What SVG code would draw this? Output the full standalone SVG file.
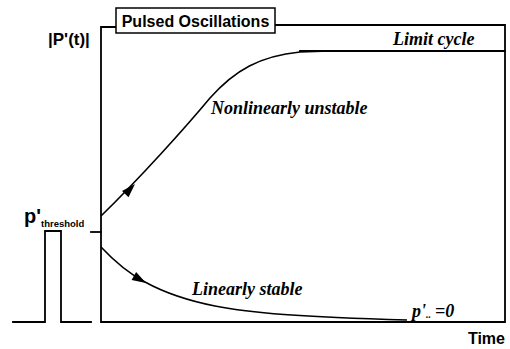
<svg xmlns="http://www.w3.org/2000/svg" width="510" height="349" viewBox="0 0 510 349">
<style>
.ln{fill:none;stroke:#000;stroke-width:1.8;stroke-linecap:square}
.cv{fill:none;stroke:#000;stroke-width:1.6}
.sans{font-family:"Liberation Sans",Arial,sans-serif;font-weight:bold;fill:#000}
.ser{font-family:"Liberation Serif","Times New Roman",serif;font-weight:bold;font-style:italic;fill:#000;font-size:18px}
</style>
<defs>
<path id="ah" d="M0,0 L-14,-4.5 L-14,4.5 Z" fill="#000"/>
</defs>
<rect width="510" height="349" fill="#fff"/>
<g id="frame">
<path class="ln" d="M101,27 H116 M275,25 H505 V322 M101,27 V322 H505"/>
</g>
<g id="title">
<rect x="116" y="8" width="159" height="25" fill="#fff" stroke="#000" stroke-width="1.5"/>
<text class="sans" x="195.5" y="27" font-size="16" text-anchor="middle">Pulsed Oscillations</text>
</g>
<g id="ylabel">
<text class="sans" x="48" y="45" font-size="17">|P'(t)|</text>
</g>
<g id="xlabel">
<text class="sans" x="505" y="344" font-size="16" text-anchor="end">Time</text>
</g>
<g id="threshold">
<text class="sans" x="24" y="223" font-size="20">p'<tspan font-size="9.5" dy="4">threshold</tspan></text>
<path class="ln" d="M91,232 H101"/>
</g>
<g id="pulse">
<path class="ln" d="M13,322 H45 V231 H61 V322 H91"/>
</g>
<g id="limit-cycle">
<path class="ln" d="M300,51 H505"/>
<text class="ser" x="393" y="45">Limit cycle</text>
</g>
<g id="connectors">
<path class="cv" d="M101,216 C140,178 185,128 210,98 C235,70 260,56 300,52 L330,51"/>
<path class="cv" d="M101,247 C115,262 128,273 145,282 C165,293 185,300 215,306 C250,313 300,317 407,320"/>
<use href="#ah" transform="translate(135,184) rotate(-46)"/>
<use href="#ah" transform="translate(146,283) rotate(30)"/>
</g>
<g id="label-unstable">
<text class="ser" x="211" y="114">Nonlinearly unstable</text>
</g>
<g id="label-stable">
<text class="ser" x="192" y="295">Linearly stable</text>
</g>
<g id="label-zero">
<text class="ser" x="412" y="317">p'<tspan font-size="10" dy="1">..</tspan><tspan dy="-1" dx="4">=0</tspan></text>
</g>
</svg>
